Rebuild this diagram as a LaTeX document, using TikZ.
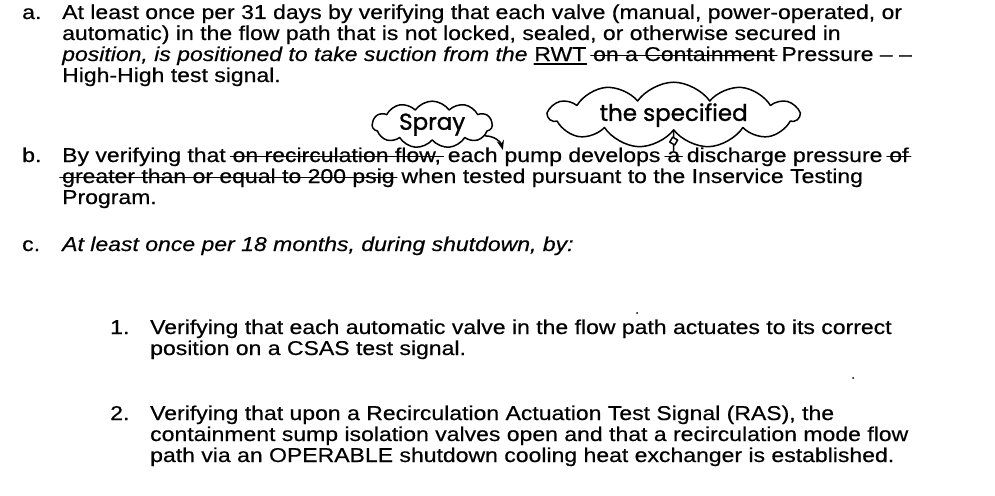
\documentclass[tikz,border=0pt]{standalone}
\usepackage{fontspec}
\setmainfont{Liberation Sans}[FakeStretch=1.15, FakeBold=0.5]
\newfontfamily\handfont{Poppins}[FakeBold=1.2]
\usetikzlibrary{arrows.meta, positioning, shapes.symbols, shapes.geometric}

\begin{document}
\begin{tikzpicture}[x=1pt, y=1pt, >=Stealth, font=\fontsize{20}{21}\selectfont]
\tikzstyle{ln}=[anchor=base west, inner sep=0pt]
\tikzstyle{strike}=[line width=1.6pt, line cap=round]
\tikzstyle{hand}=[line width=1.5pt, line cap=round, line join=round]
\tikzstyle{note}=[cloud, cloud puffs=11, cloud puff arc=110, cloud ignores aspect, draw, hand, inner sep=1pt, font=\handfont\fontsize{23}{23}\selectfont]

\useasboundingbox (0,0) rectangle (995,-495);

% item a
\node[ln] (la) at (22,-19) {a.};
\node[ln] (a1) at (62,-19) {At least once per 31 days by verifying that each valve (manual, power-operated, or};
\node[ln] (a2) at (62,-40) {automatic) in the flow path that is not locked, sealed, or otherwise secured in};
\node[ln] (a3) at (62,-61) {\itshape position, is positioned to take suction from the};
\node[ln, base right=6.4pt of a3] (rwt) {RWT};
\node[ln, base right=6.4pt of rwt] (a3x) {on a Containment};
\node[ln, base right=6.4pt of a3x] (a3e) {Pressure -- --};
\node[ln] (a4) at (62,-82) {High-High test signal.};

% item b
\node[ln] (lb) at (22,-162) {b.};
\node[ln] (b1) at (62,-162) {By verifying that};
\node[ln, base right=6.4pt of b1] (b1x) {on recirculation flow,};
\node[ln, base right=6.4pt of b1x] (each) {each};
\node[ln, base right=6.4pt of each] (pump) {pump develops};
\node[ln, base right=6.4pt of pump] (b1a) {a};
\node[ln, base right=6.4pt of b1a] (disch) {discharge pressure};
\node[ln, base right=6.4pt of disch] (b1of) {of};
\node[ln] (b2x) at (62,-183) {greater than or equal to 200 psig};
\node[ln, base right=6.4pt of b2x] (b2) {when tested pursuant to the Inservice Testing};
\node[ln] (b3) at (62,-204) {Program.};

% struck words
\foreach \w in {a3x, b1x, b1a, b1of, b2x}
  \draw[strike] ([xshift=-2pt, yshift=5.5pt]\w.base west) -- ([xshift=2pt, yshift=5.5pt]\w.base east);
\draw[hand] ([yshift=-3pt]rwt.base west) -- ([yshift=-3pt]rwt.base east);

% handwritten inserts
\node[note, minimum width=120pt, minimum height=30pt, anchor=south east] (spray) at ([xshift=2pt, yshift=6pt]each.north) {Spray};
\draw[hand, ->] (spray.-12) to[out=0, in=105] ([xshift=5pt, yshift=12pt]each.base east);

\node[note, minimum width=250pt, minimum height=32pt, anchor=south] (spec) at ([yshift=20pt]b1a.north) {the specified};
\node[diamond, draw, hand, inner sep=2.2pt, rotate=15] (caret) at ([yshift=10pt]b1a.north) {};
\draw[hand] (caret) -- (caret |- spec.south);
\draw[hand] (caret) -- (b1a.north);

% item c
\node[ln] (lc) at (22,-251) {c.};
\node[ln] (c1) at (62,-251) {\itshape At least once per 18 months, during shutdown, by:};

\node[ln] (l1) at (110,-334) {1.};
\node[ln] (i1a) at (150,-334) {Verifying that each automatic valve in the flow path actuates to its correct};
\node[ln] (i1b) at (150,-355) {position on a CSAS test signal.};

\node[ln] (l2) at (110,-420) {2.};
\node[ln] (i2a) at (150,-420) {Verifying that upon a Recirculation Actuation Test Signal (RAS), the};
\node[ln] (i2b) at (150,-441) {containment sump isolation valves open and that a recirculation mode flow};
\node[ln] (i2c) at (150,-462) {path via an OPERABLE shutdown cooling heat exchanger is established.};

% specks
\fill (637,-313) circle (1pt);
\fill (853,-378) circle (1pt);
\end{tikzpicture}
\end{document}
